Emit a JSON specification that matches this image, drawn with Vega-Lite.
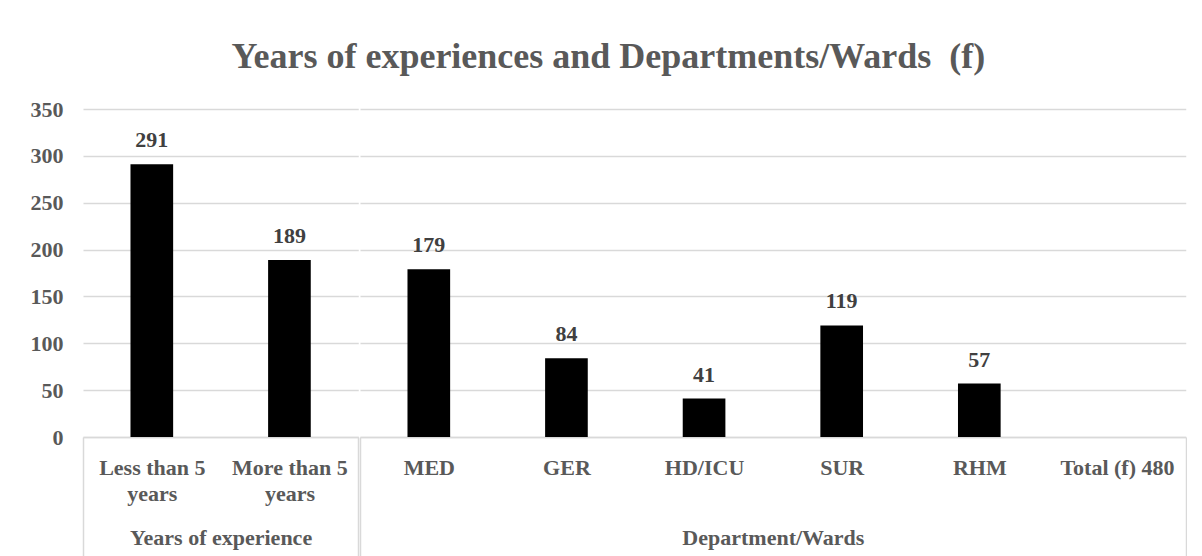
{
  "$schema": "https://vega.github.io/schema/vega-lite/v6.json",
  "background": "white",
  "padding": {"left": 30, "top": 39, "right": 0, "bottom": 0},
  "autosize": {"type": "pad"},
  "title": {
    "text": "Years of experiences and Departments/Wards\u00a0 (f)",
    "font": "Liberation Serif",
    "fontSize": 36,
    "fontWeight": "bold",
    "color": "#595959",
    "anchor": "middle",
    "offset": 22
  },
  "data": {
    "values": [
      {"cat": "Less than 5 years", "group": "Years of experience", "value": 291},
      {"cat": "More than 5 years", "group": "Years of experience", "value": 189},
      {"cat": "MED", "group": "Department/Wards", "value": 179},
      {"cat": "GER", "group": "Department/Wards", "value": 84},
      {"cat": "HD/ICU", "group": "Department/Wards", "value": 41},
      {"cat": "SUR", "group": "Department/Wards", "value": 119},
      {"cat": "RHM", "group": "Department/Wards", "value": 57},
      {"cat": "Total (f) 480", "group": "Department/Wards", "value": null}
    ]
  },
  "spacing": 0,
  "hconcat": [
    {
      "width": 275.25,
      "height": 328,
      "transform": [{"filter": "datum.group === 'Years of experience'"}],
      "encoding": {
        "x": {
          "field": "cat",
          "type": "nominal",
          "sort": null,
          "scale": {"domain": ["Less than 5 years", "More than 5 years"], "paddingInner": 0, "paddingOuter": 0},
          "axis": {
            "title": "Years of experience",
            "labelAngle": 0,
            "tickBand": "extent",
            "ticks": true,
            "tickSize": 120,
            "tickWidth": 1.5,
            "tickColor": {"condition": {"test": "datum.extra || datum.value === 'More than 5 years'", "value": "#d9d9d9"}, "value": "transparent"},
            "labelPadding": -100,
            "labelBaseline": "top",
            "labelLineHeight": 26,
            "labelExpr": "datum.label === 'Less than 5 years' ? ['Less than 5', 'years'] : datum.label === 'More than 5 years' ? ['More than 5', 'years'] : ''",
            "titleY": 100,
            "titleBaseline": "middle"
          }
        },
        "y": {
          "field": "value",
          "type": "quantitative",
          "scale": {"domain": [0, 350]},
          "axis": {
            "title": null,
            "values": [0, 50, 100, 150, 200, 250, 300, 350],
            "domain": false,
            "ticks": false,
            "labelPadding": 20,
            "grid": true
          }
        }
      },
      "layer": [
        {"mark": {"type": "bar", "width": {"band": 0.31}, "color": "black"}},
        {
          "mark": {"type": "text", "baseline": "alphabetic", "dy": -17, "font": "Liberation Serif", "fontSize": 22, "fontWeight": "bold", "color": "#404040"},
          "encoding": {"text": {"field": "value", "type": "quantitative"}}
        }
      ]
    },
    {
      "width": 825.75,
      "height": 328,
      "transform": [{"filter": "datum.group === 'Department/Wards'"}],
      "encoding": {
        "x": {
          "field": "cat",
          "type": "nominal",
          "sort": null,
          "scale": {"domain": ["MED", "GER", "HD/ICU", "SUR", "RHM", "Total (f) 480"], "paddingInner": 0, "paddingOuter": 0},
          "axis": {
            "title": "Department/Wards",
            "labelAngle": 0,
            "tickBand": "extent",
            "ticks": true,
            "tickSize": 120,
            "tickWidth": 1.5,
            "tickColor": {"condition": {"test": "datum.extra || datum.value === 'Total (f) 480'", "value": "#d9d9d9"}, "value": "transparent"},
            "labelPadding": -100,
            "labelBaseline": "top",
            "labelLineHeight": 26,
            "titleY": 100,
            "titleBaseline": "middle"
          }
        },
        "y": {
          "field": "value",
          "type": "quantitative",
          "scale": {"domain": [0, 350]},
          "axis": {
            "title": null,
            "values": [0, 50, 100, 150, 200, 250, 300, 350],
            "domain": false,
            "ticks": false,
            "labels": false,
            "grid": true
          }
        }
      },
      "layer": [
        {"mark": {"type": "bar", "width": {"band": 0.31}, "color": "black"}},
        {
          "mark": {"type": "text", "baseline": "alphabetic", "dy": -17, "font": "Liberation Serif", "fontSize": 22, "fontWeight": "bold", "color": "#404040"},
          "encoding": {"text": {"field": "value", "type": "quantitative"}}
        }
      ]
    }
  ],
  "config": {
    "view": {"stroke": null},
    "axis": {
      "labelFont": "Liberation Serif",
      "labelFontSize": 22,
      "labelFontWeight": "bold",
      "labelColor": "#595959",
      "titleFont": "Liberation Serif",
      "titleFontSize": 22,
      "titleFontWeight": "bold",
      "titleColor": "#595959",
      "gridColor": "#d9d9d9",
      "gridWidth": 1.5,
      "domainColor": "#d9d9d9",
      "domainWidth": 1.5
    }
  }
}
